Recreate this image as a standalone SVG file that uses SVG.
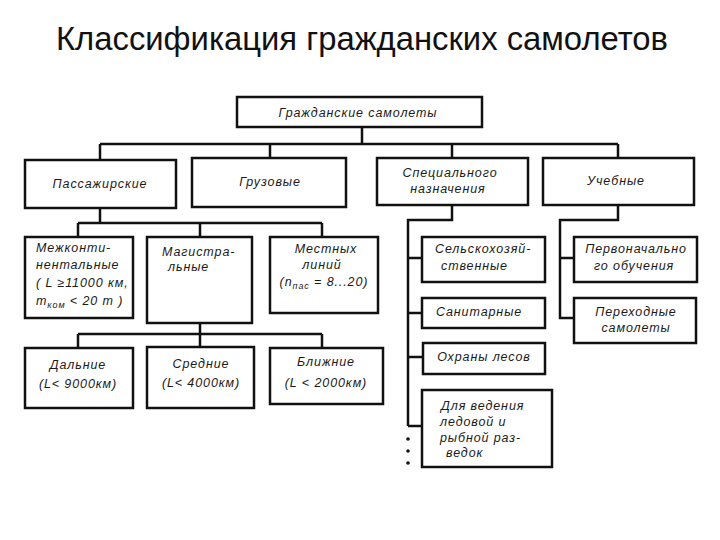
<svg xmlns="http://www.w3.org/2000/svg" width="720" height="540" viewBox="0 0 720 540">
<style>
.bg{fill:#fff}
.box{fill:#fff;stroke:#111;stroke-width:2.5}
.ln{fill:none;stroke:#111;stroke-width:2.5}
.t{font-family:"Liberation Sans",Arial,sans-serif;font-style:italic;font-size:12.5px;fill:#1a1a1a;letter-spacing:0.9px;text-anchor:middle}
.tl{text-anchor:start}
.title{font-family:"Liberation Sans",Arial,sans-serif;font-size:33px;fill:#111;text-anchor:start}
</style>
<rect class="bg" x="0" y="0" width="720" height="540"/>
<text class="title" x="56" y="50" textLength="612" lengthAdjust="spacingAndGlyphs">Классификация гражданских самолетов</text>

<g id="connectors">
<path class="ln" d="M362 127 V144 M100 144 H618 M100 144 V160 M270 144 V158 M452 144 V158 M618 144 V158"/>
<path class="ln" d="M100 208 V223 M78 223 H322 M78 223 V237 M200 223 V237 M322 223 V237"/>
<path class="ln" d="M200 323 V334 M78 334 H322 M78 334 V348 M200 334 V347 M322 334 V348"/>
<path class="ln" d="M452 205 V220 H408 V426 M408 258 H422 M408 313 H422 M408 357 H423 M408 426 H422"/>
<path class="ln" d="M618 205 V220 H560 V318 H574 M560 258 H574"/>
<g fill="#111"><circle cx="408" cy="439" r="1.8"/><circle cx="408" cy="451" r="1.8"/><circle cx="408" cy="463" r="1.8"/></g>
</g>

<g id="n-root"><rect class="box" x="237" y="97" width="245" height="30"/><text class="t" x="358" y="117">Гражданские самолеты</text></g>

<g id="n-pass"><rect class="box" x="25" y="160" width="151" height="48"/><text class="t" x="100" y="188">Пассажирские</text></g>
<g id="n-gruz"><rect class="box" x="192" y="158" width="154" height="49"/><text class="t" x="270" y="186">Грузовые</text></g>
<g id="n-spec"><rect class="box" x="377" y="158" width="151" height="47"/><text class="t" x="450" y="177">Специального</text><text class="t" x="448" y="193">назначения</text></g>
<g id="n-ucheb"><rect class="box" x="543" y="158" width="151" height="47"/><text class="t" x="616" y="185">Учебные</text></g>

<g id="n-mezh"><rect class="box" x="25" y="237" width="108" height="81"/>
<text class="t tl" x="36" y="252">Межконти-</text>
<text class="t tl" x="36" y="269">нентальные</text>
<text class="t tl" x="36" y="287">( L ≥11000 км,</text>
<text class="t tl" x="36" y="305">m<tspan font-size="9" dy="3">ком</tspan><tspan dy="-3"> &lt; 20 т )</tspan></text></g>
<g id="n-magistr"><rect class="box" x="147" y="237" width="105" height="86"/>
<text class="t tl" x="162" y="256">Магистра-</text><text class="t tl" x="168" y="271">льные</text></g>
<g id="n-mest"><rect class="box" x="270" y="237" width="108" height="76"/>
<text class="t" x="326" y="253">Местных</text><text class="t" x="322" y="269">линий</text>
<text class="t" x="324" y="286">(n<tspan font-size="9" dy="3">пас</tspan><tspan dy="-3"> = 8...20)</tspan></text></g>

<g id="n-dal"><rect class="box" x="25" y="348" width="108" height="60"/><text class="t" x="78" y="369">Дальние</text><text class="t" x="78" y="388">(L&lt; 9000км)</text></g>
<g id="n-sred"><rect class="box" x="147" y="347" width="107" height="61"/><text class="t" x="201" y="368">Средние</text><text class="t" x="201" y="387">(L&lt; 4000км)</text></g>
<g id="n-blizh"><rect class="box" x="270" y="348" width="113" height="56"/><text class="t" x="326" y="366">Ближние</text><text class="t" x="326" y="387">(L &lt; 2000км)</text></g>

<g id="n-selsk"><rect class="box" x="422" y="237" width="123" height="45"/><text class="t tl" x="435" y="253">Сельскохозяй-</text><text class="t tl" x="441" y="270">ственные</text></g>
<g id="n-sanit"><rect class="box" x="422" y="298" width="123" height="30"/><text class="t" x="479" y="316">Санитарные</text></g>
<g id="n-ohran"><rect class="box" x="423" y="343" width="122" height="31"/><text class="t" x="484" y="361">Охраны лесов</text></g>
<g id="n-vedenie"><rect class="box" x="422" y="390" width="130" height="77"/>
<text class="t tl" x="441" y="410">Для ведения</text><text class="t tl" x="440" y="426">ледовой и</text>
<text class="t tl" x="440" y="442">рыбной раз-</text><text class="t tl" x="446" y="457">ведок</text></g>

<g id="n-perv"><rect class="box" x="574" y="237" width="123" height="45"/><text class="t" x="636" y="253">Первоначально</text><text class="t" x="634" y="270">го обучения</text></g>
<g id="n-perehod"><rect class="box" x="574" y="298" width="122" height="45"/><text class="t" x="636" y="316">Переходные</text><text class="t" x="636" y="332">самолеты</text></g>
</svg>
